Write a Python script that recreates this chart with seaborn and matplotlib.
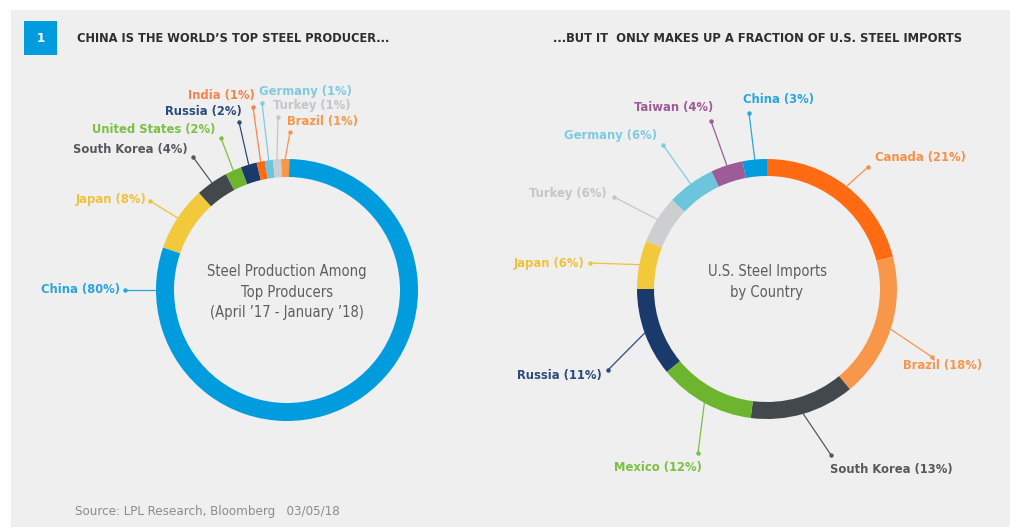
import numpy as np
import matplotlib
matplotlib.use("Agg")
import matplotlib.pyplot as plt
import seaborn as sns
from matplotlib.patches import Rectangle

# ---------------- data ----------------
prod_countries = ["China", "Japan", "South Korea", "United States", "Russia",
                  "India", "Germany", "Turkey", "Brazil"]
prod_shares = [80, 8, 4, 2, 2, 1, 1, 1, 1]

imp_countries = ["Canada", "Brazil", "South Korea", "Mexico", "Russia",
                 "Japan", "Turkey", "Germany", "Taiwan", "China"]
imp_shares = [21, 18, 13, 12, 11, 6, 6, 6, 4, 3]

title_left = "CHINA IS THE WORLD\u2019S TOP STEEL PRODUCER..."
title_right = "...BUT IT  ONLY MAKES UP A FRACTION OF U.S. STEEL IMPORTS"
center_left = "Steel Production Among\nTop Producers\n(April \u201917 - January \u201918)"
center_right = "U.S. Steel Imports\nby Country"
source = "Source: LPL Research, Bloomberg   03/05/18"

# ---------------- styles ----------------
slice_colors = {
    "China": "#009CDE", "Japan": "#F3C93C", "South Korea": "#43484D",
    "United States": "#6DB52E", "Mexico": "#6DB52E", "Russia": "#1A3A6C",
    "India": "#FF6B12", "Canada": "#FF6B12", "Germany": "#6CC5DA",
    "Turkey": "#CDCED0", "Brazil": "#F8964A", "Taiwan": "#9D5B98",
}
text_colors = {
    "China": "#2AA5DD", "Japan": "#EEC23C", "South Korea": "#55595E",
    "United States": "#7BC043", "Mexico": "#7BC043", "Russia": "#2D4B7B",
    "India": "#F7844A", "Canada": "#F7904A", "Germany": "#7FCBE0",
    "Turkey": "#C4C5C8", "Brazil": "#F7964D", "Taiwan": "#9D5B98",
}

# label layout in pixel coords: (dot x, dot y), (text x, text y), ha, anchor angle (None = wedge middle)
left_layout = {
    "China": ((125, 290), (120, 290), "right", 180),
    "Japan": ((150, 201), (146, 200), "right", None),
    "South Korea": ((193, 157), (188, 150), "right", None),
    "United States": ((221, 138), (215, 129), "right", None),
    "Russia": ((239, 122), (242, 112), "right", None),
    "India": ((253, 107), (255, 95), "right", None),
    "Germany": ((262, 103), (259, 91), "left", None),
    "Turkey": ((278, 117), (273, 105), "left", None),
    "Brazil": ((290, 132), (287, 122), "left", None),
}
right_layout = {
    "China": ((749, 113), (743, 99), "left", None),
    "Taiwan": ((711, 121), (713, 108), "right", None),
    "Germany": ((663, 145), (657, 136), "right", None),
    "Turkey": ((614, 197), (607, 193), "right", None),
    "Japan": ((590, 263), (584, 264), "right", None),
    "Russia": ((608, 370), (602, 376), "right", None),
    "Mexico": ((698, 453), (702, 468), "right", None),
    "South Korea": ((831, 455), (830, 469), "left", None),
    "Brazil": ((932, 357), (903, 366), "left", None),
    "Canada": ((868, 167), (875, 158), "left", None),
}

W, H = 1010, 529
sns.set_theme(style="white")
plt.rcParams["font.family"] = ["DejaVu Sans Condensed", "DejaVu Sans"]
plt.rcParams["font.stretch"] = "condensed"

fig = plt.figure(figsize=(W / 100, H / 100), dpi=100, facecolor="white")
ax = fig.add_axes([0, 0, 1, 1])


def Y(y):
    return H - y


# panel background
ax.add_patch(Rectangle((11, Y(527)), W - 11, 517, color="#EFEFEF", zorder=0, lw=0))
# numbered box
ax.add_patch(Rectangle((24, Y(55)), 33, 34, color="#009CDE", zorder=1, lw=0))
ax.text(40.5, Y(38), "1", color="white", fontsize=9.5, fontweight="bold",
        ha="center", va="center", zorder=2)
ax.text(77, Y(39), title_left, color="#2E2E2E", fontsize=9.2, fontweight="heavy",
        ha="left", va="center")
ax.text(553, Y(39), title_right, color="#2E2E2E", fontsize=9.3, fontweight="heavy",
        ha="left", va="center")


def donut(countries, shares, cx, cy, r, width, start, layout):
    wedges, _ = ax.pie(shares, colors=[slice_colors[c] for c in countries],
                       startangle=start, counterclock=False, radius=r,
                       center=(cx, Y(cy)), frame=True,
                       wedgeprops=dict(width=width, edgecolor="none", linewidth=0))
    for w, c, v in zip(wedges, countries, shares):
        (dx, dy), (tx, ty), ha, ang = layout[c]
        if ang is None:
            ang = (w.theta1 + w.theta2) / 2.0
        mid = np.deg2rad(ang)
        axx = cx + r * np.cos(mid)
        axy = Y(cy) + r * np.sin(mid)
        col = text_colors[c]
        ax.plot([dx, axx], [Y(dy), axy], color=col, lw=0.9, zorder=3)
        ax.plot([dx], [Y(dy)], "o", color=col, ms=2.2, zorder=3)
        ax.text(tx, Y(ty), f"{c} ({v}%)", color=col, fontsize=9.3,
                fontweight="bold", ha=ha, va="center", zorder=4)


donut(prod_countries, prod_shares, 287, 290, 131, 18, 89, left_layout)
donut(imp_countries, imp_shares, 767, 289, 130, 17, 90, right_layout)

ax.text(287, Y(292), center_left, color="#5E5E5E", fontsize=10.5,
        ha="center", va="center", linespacing=1.45)
ax.text(767, Y(282), center_right, color="#5E5E5E", fontsize=10.5,
        ha="center", va="center", linespacing=1.45)

ax.text(75, Y(512), source, color="#8C8C8C", fontsize=9.5, ha="left", va="center")

ax.set_xlim(0, W)
ax.set_ylim(0, H)
ax.set_aspect("equal")
ax.axis("off")

fig.savefig("out.png", dpi=100, facecolor="white")
